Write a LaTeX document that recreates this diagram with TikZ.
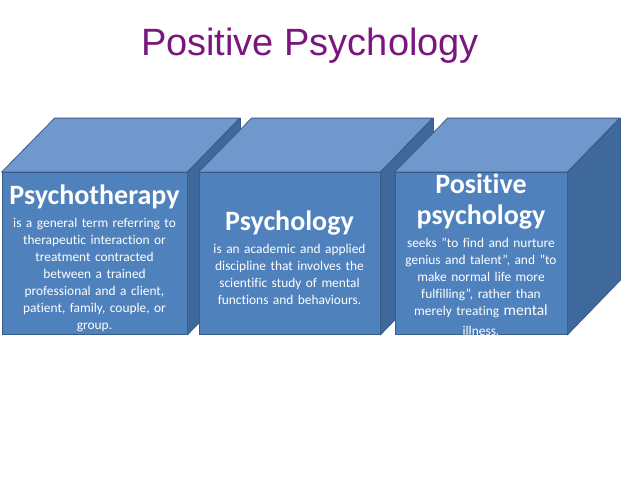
\documentclass[tikz,border=0pt]{standalone}
\usepackage{fontspec}
\setmainfont{Carlito}[Ligatures=NoCommon]
\newfontfamily\titlefont{Liberation Sans}
\usetikzlibrary{positioning}
\definecolor{titlepurple}{RGB}{122,22,128}
\definecolor{cubefrontblue}{RGB}{79,129,189}
\definecolor{cubetopblue}{RGB}{112,152,205}
\definecolor{cubesideblue}{RGB}{63,104,155}
\definecolor{cubeedge}{RGB}{56,93,138}
\newcommand{\qq}{\symbol{34}}
\tikzset{
  cubefront/.style={rectangle, draw=cubeedge, fill=cubefrontblue, line width=0.8pt,
                    minimum width=#1, minimum height=162pt, inner sep=0pt},
  cubetop/.style={draw=cubeedge, fill=cubetopblue, line width=0.8pt, line join=round},
  cubeside/.style={draw=cubeedge, fill=cubesideblue, line width=0.8pt, line join=round},
  heading/.style={text=white, font=\fontsize{28}{31}\selectfont\bfseries, align=center,
                  inner sep=0pt, text width=#1},
  bodytext/.style={text=white, font=\fontsize{13.4}{17}\selectfont, align=center,
                   inner sep=0pt, text width=#1},
  titletext/.style={text=titlepurple, font=\titlefont\fontsize{38}{42}\selectfont, inner sep=0pt},
}

\begin{document}
\begin{tikzpicture}[x=1pt, y=-1pt]
\useasboundingbox[fill=white] (0,0) rectangle (638,479);

\node[titletext, anchor=base] (title) at (310,56) {Positive Psychology};

% three cubes, left to right
\foreach \n/\x/\w in {c1/2/185, c2/199/181, c3/395/172} {
  \node[cubefront=\w pt] (\n) at ({\x+\w/2},253.5) {};
  \draw[cubetop] (\n.north west) -- ++(53,-54) -- ++(\w,0) -- (\n.north east) -- cycle;
  \draw[cubeside] (\n.north east) -- ++(53,-54) -- ++(0,162) -- (\n.south east) -- cycle;
  \node[cubefront=\w pt] at (\n) {};
}

\node[heading=180pt, anchor=base] (therapyhead) at (94.5,204) {Psychotherapy};
\node[bodytext=180pt, anchor=base] (therapybody) at (94.5,227)
  {is a general term referring to\\therapeutic interaction or\\treatment contracted\\between a trained\\professional and a client,\\patient, family, couple, or\\group.};

\node[heading=176pt, anchor=base] (psychhead) at (289.5,230) {Psychology};
\node[bodytext=176pt, anchor=base] (psychbody) at (289.5,253)
  {is an academic and applied\\discipline that involves the\\scientific study of mental\\functions and behaviours.};

\begin{scope}
  \clip (c3.north west) rectangle (c3.south east);
  \node[heading=168pt, anchor=base] (poshead) at (481,193) {Positive\\psychology};
  \node[bodytext=168pt, anchor=base] (posbody) at (481,247)
    {seeks \qq to find and nurture\\genius and talent\qq, and \qq to\\make normal life more\\fulfilling\qq, rather than\\merely treating {\fontsize{15.5}{17}\selectfont mental}\\[3pt]illness.};
\end{scope}
\end{tikzpicture}
\end{document}
